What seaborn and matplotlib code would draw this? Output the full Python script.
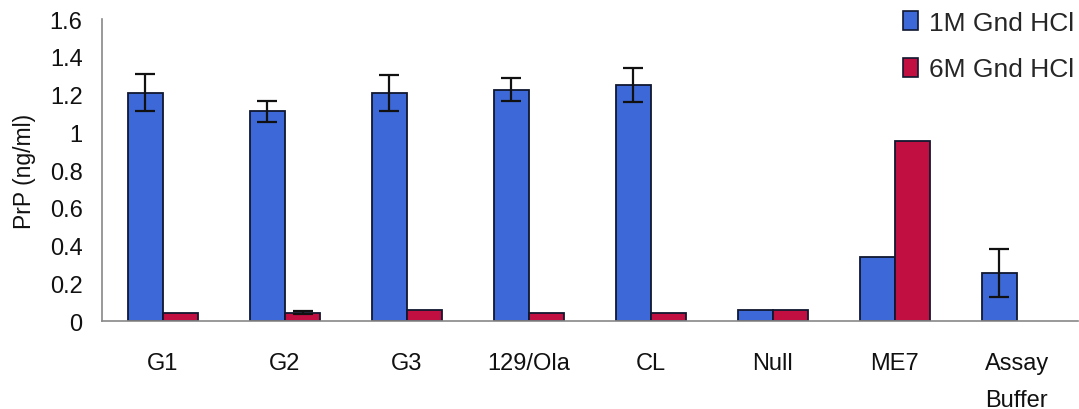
import numpy as np
import pandas as pd
import matplotlib
matplotlib.use("Agg")
import matplotlib.pyplot as plt
import seaborn as sns
from matplotlib.ticker import FixedLocator

categories = ["G1", "G2", "G3", "129/Ola", "CL", "Null", "ME7", "Assay\nBuffer"]
series_names = ["1M Gnd HCl", "6M Gnd HCl"]
vals_1m = [1.21, 1.11, 1.21, 1.225, 1.25, 0.056, 0.337, 0.254]
err_1m = [0.10, 0.055, 0.095, 0.06, 0.09, 0.0, 0.0, 0.127]
vals_6m = [0.045, 0.045, 0.056, 0.045, 0.045, 0.056, 0.955, np.nan]
err_6m = [0.0, 0.01, 0.0, 0.0, 0.0, 0.0, 0.0, 0.0]
yticks = [0, 0.2, 0.4, 0.6, 0.8, 1, 1.2, 1.4, 1.6]
ytick_labels = ["0", "0.2", "0.4", "0.6", "0.8", "1", "1.2", "1.4", "1.6"]

colors = ["#3D68D8", "#C20F42"]

df = pd.DataFrame({
    "cat": categories * 2,
    "series": [series_names[0]] * len(categories) + [series_names[1]] * len(categories),
    "val": vals_1m + vals_6m,
})

sns.set_theme(style="white")
plt.rcParams["font.family"] = ["Liberation Sans", "DejaVu Sans"]

fig = plt.figure(figsize=(10.79, 4.10), dpi=100)
ax = fig.add_axes([0.0945, 0.2146, 0.9045, 0.7366])

sns.barplot(data=df, x="cat", y="val", hue="series", order=categories,
            hue_order=series_names, palette=colors, width=0.58,
            edgecolor="#101830", linewidth=1.3, saturation=1, errorbar=None, ax=ax)

for cont, errs in zip(ax.containers, [err_1m, err_6m]):
    xs, ys, es = [], [], []
    for bar, e in zip(cont, errs):
        h = bar.get_height()
        if e > 0 and np.isfinite(h):
            xs.append(bar.get_x() + bar.get_width() / 2)
            ys.append(h)
            es.append(e)
    if xs:
        ax.errorbar(xs, ys, yerr=es, fmt="none", ecolor="#111111",
                    elinewidth=1.6, capsize=7, capthick=1.6, zorder=5)

ax.set_ylim(0, 1.6)
ax.set_xlim(-0.5, len(categories) - 0.5)
ax.set_yticks(yticks)
ax.set_yticklabels(ytick_labels, fontsize=17)
ax.set_xticks(range(len(categories)))
ax.set_xticklabels(categories, fontsize=17, linespacing=1.9)
ax.xaxis.set_minor_locator(FixedLocator(np.arange(-0.5, len(categories), 1.0)))
ax.tick_params(axis="x", which="major", length=0, pad=22, colors="#111111")
ax.tick_params(axis="x", which="minor", length=6, width=1, color="#888888", direction="out")
ax.tick_params(axis="y", which="major", length=6, width=1, color="#888888", direction="out",
               pad=8, labelcolor="#111111")
for lab in ax.get_xticklabels():
    lab.set_verticalalignment("top")

for s in ["top", "right"]:
    ax.spines[s].set_visible(False)
for s in ["left", "bottom"]:
    ax.spines[s].set_color("#888888")
    ax.spines[s].set_linewidth(1.2)

ax.set_xlabel("")
ax.set_ylabel("PrP (ng/ml)", fontsize=16.5, labelpad=10, color="#111111")

leg = ax.legend(loc="upper left", bbox_to_anchor=(903 / 1079, 1 - 12 / 410),
                bbox_transform=fig.transFigure, frameon=False,
                fontsize=19, handlelength=0.58, handleheight=0.75, handletextpad=0.4,
                labelspacing=0.85, borderaxespad=0, borderpad=0)
for h in leg.legend_handles:
    h.set_edgecolor("#101830")
    h.set_linewidth(1.2)

fig.savefig("out.png", dpi=100, facecolor="white")
